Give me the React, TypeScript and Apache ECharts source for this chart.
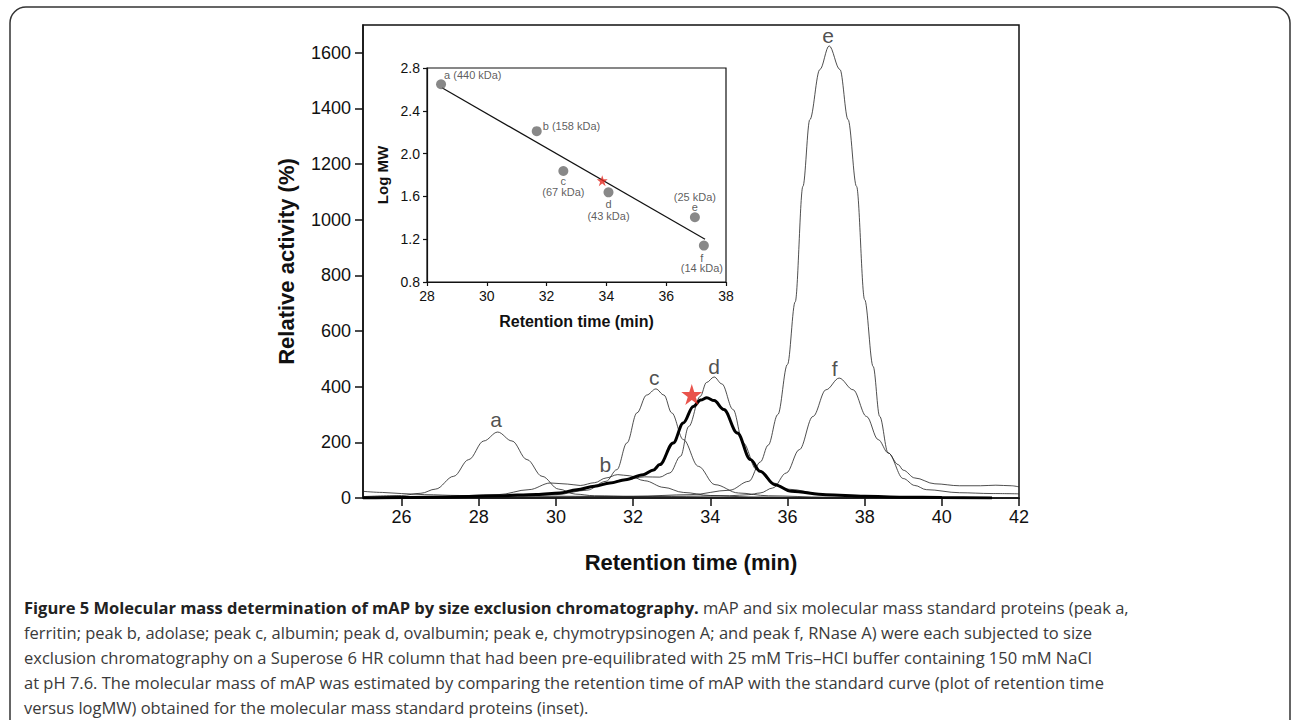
import React, { useEffect, useRef } from "react";
import * as echarts from "echarts";

// ---------- main chromatogram data (retention time min, relative activity %) ----------
const curveA: [number, number][] = [
  [25, 5], [26, 9], [26.5, 17], [26.88, 32], [27.35, 78], [27.74, 138], [28.13, 205], [28.49, 237],
  [28.86, 205], [29.25, 138], [29.64, 78], [30.07, 32], [30.5, 14], [31, 8], [32, 5], [34, 3], [36, 1], [42, 0],
];
const curveB: [number, number][] = [
  [25, 3], [27, 6], [28.5, 12], [29.3, 30], [29.86, 54], [30.3, 50], [30.63, 45], [31.0, 55], [31.3, 72],
  [31.6, 84], [31.9, 80], [32.3, 62], [32.8, 38], [33.3, 20], [34, 9], [35, 4], [37, 1], [42, 0],
];
const curveC: [number, number][] = [
  [25, 4], [28, 6], [30, 12], [30.8, 28], [31.3, 60], [31.58, 102], [31.84, 198], [32.1, 306], [32.35, 370],
  [32.59, 392], [32.8, 370], [33.0, 306], [33.3, 210], [33.69, 114], [34.12, 48], [34.73, 18], [35.5, 8],
  [37, 3], [42, 0],
];
const curveD: [number, number][] = [
  [25, 2], [28, 4], [29.5, 10], [30.5, 25], [31.2, 50], [31.8, 66], [32.3, 76], [32.69, 75], [32.95, 90],
  [33.23, 150], [33.44, 257], [33.74, 365], [33.9, 415], [34.1, 435], [34.3, 410], [34.59, 318], [34.85, 198],
  [35.2, 102], [35.63, 54], [36, 32], [37, 12], [38, 5], [40, 2], [42, 1],
];
const curveE: [number, number][] = [
  [25, 2], [30, 4], [32, 6], [33.5, 12], [34.5, 28], [35, 60], [35.3, 130], [35.5, 190], [35.75, 300],
  [36, 480], [36.2, 705], [36.4, 1120], [36.58, 1360], [36.84, 1540], [37.08, 1625], [37.36, 1540],
  [37.57, 1360], [37.79, 1120], [38.0, 713], [38.22, 473], [38.39, 293], [38.61, 162], [39.0, 70],
  [39.3, 45], [39.6, 30], [40.46, 19], [41.3, 16], [42, 15],
];
const curveF: [number, number][] = [
  [25, 24], [25.5, 20], [26, 16], [26.6, 12], [27.5, 9], [29, 7], [31, 6], [33, 6], [34.5, 8], [35, 12],
  [35.29, 18], [35.62, 36], [35.97, 90], [36.31, 174], [36.66, 293], [37.0, 389], [37.34, 431], [37.7, 389],
  [38.05, 293], [38.35, 210], [38.61, 162], [38.87, 120], [39.0, 100], [39.3, 72], [39.82, 51], [40.46, 44],
  [41.0, 44], [41.4, 46], [41.8, 44], [42, 40],
];
const curveMAP: [number, number][] = [
  [25, 0], [27, 3], [28.5, 8], [29.5, 13], [30.1, 18], [30.54, 30], [31.0, 42], [31.4, 54], [31.8, 66],
  [32.26, 84], [32.53, 101], [32.69, 120], [33.04, 198], [33.3, 270], [33.56, 329], [33.75, 352], [33.91, 360],
  [34.1, 350], [34.35, 318], [34.7, 234], [35.04, 138], [35.29, 96], [35.67, 48], [36.1, 24], [37, 12],
  [38, 6], [39, 3], [40, 2], [41.3, 0],
];
const peakLabelNames = ["a", "b", "c", "d", "e", "f"];
const peakLabelX = [28.45, 31.28, 32.55, 34.1, 37.05, 37.22];
const peakLabelY = [282, 121, 433, 474, 1662, 467];
const mapStarMain: [number, number] = [33.52, 372];

const mainXTicks = [26, 28, 30, 32, 34, 36, 38, 40, 42];
const mainYTicks = [0, 200, 400, 600, 800, 1000, 1200, 1400, 1600];

// ---------- inset standard curve ----------
const standardNames = ["a", "b", "c", "d", "e", "f"];
const standardMass = ["440 kDa", "158 kDa", "67 kDa", "43 kDa", "25 kDa", "14 kDa"];
const standardTime = [28.47, 31.67, 32.56, 34.07, 36.96, 37.26];
const standardLogMW = [2.648, 2.21, 1.837, 1.638, 1.405, 1.14];
const fitLine: [number, number][] = [[28.5, 2.615], [37.3, 1.2]];
const mapStarInset: [number, number] = [33.86, 1.747];

const insetXTicks = [28, 30, 32, 34, 36, 38];
const insetYTicks = [0.8, 1.2, 1.6, 2.0, 2.4, 2.8];

const captionBold = "Figure 5 Molecular mass determination of mAP by size exclusion chromatography.";
const captionLines = [
  " mAP and six molecular mass standard proteins (peak a,",
  "ferritin; peak b, adolase; peak c, albumin; peak d, ovalbumin; peak e, chymotrypsinogen A; and peak f, RNase A) were each subjected to size",
  "exclusion chromatography on a Superose 6 HR column that had been pre-equilibrated with 25 mM Tris\u2013HCl buffer containing 150 mM NaCl",
  "at pH 7.6. The molecular mass of mAP was estimated by comparing the retention time of mAP with the standard curve (plot of retention time",
  "versus logMW) obtained for the molecular mass standard proteins (inset).",
];

const STAR = "path://M50,0 L61.2,34.5 L97.6,34.5 L68.2,55.9 L79.4,90.5 L50,69.1 L20.6,90.5 L31.8,55.9 L2.4,34.5 L38.8,34.5 Z";
const FONT = "Liberation Sans, Arial, Helvetica, sans-serif";
const CAP_FONT = "Open Sans, Noto Sans, sans-serif";
const CAP_SIZE = 16.5;
const CAP_TOP = 607;
const CAP_STEP = 25;

export default function App() {
  const ref = useRef<HTMLDivElement>(null);
  useEffect(() => {
    if (!ref.current) return;
    const chart = echarts.init(ref.current, undefined, { renderer: "svg" });

    const thin = (data: [number, number][]) => ({
      type: "line",
      data,
      xAxisIndex: 0,
      yAxisIndex: 0,
      symbol: "none",
      showSymbol: false,
      smooth: 0.35,
      smoothMonotone: "x",
      silent: true,
      lineStyle: { color: "#222", width: 0.8 },
      z: 2,
    });

    const insetLabelCfg: any[] = [
      { formatter: `${standardNames[0]} (${standardMass[0]})`, position: "right", offset: [-7, -9], align: "left" },
      { formatter: `${standardNames[1]} (${standardMass[1]})`, position: "right", offset: [-4, -5], align: "left" },
      { formatter: `${standardNames[2]}\n(${standardMass[2]})`, position: "bottom", offset: [0, -6], lineHeight: 11 },
      { formatter: `${standardNames[3]}\n(${standardMass[3]})`, position: "bottom", offset: [0, -4], lineHeight: 12 },
      { formatter: `(${standardMass[4]})\n${standardNames[4]}`, position: "top", offset: [0, 5], lineHeight: 10 },
      { formatter: `${standardNames[5]}\n(${standardMass[5]})`, position: "bottom", offset: [-2, -3], lineHeight: 10 },
    ];

    const lineStyle = (width: number) => ({ color: "#111", width });

    const option: any = {
      animation: false,
      backgroundColor: "#fff",
      textStyle: { fontFamily: FONT },
      grid: [
        { left: 363, right: 273, top: 25, bottom: 222, show: true, borderColor: "#111", borderWidth: 1.5, backgroundColor: "transparent", outerBoundsMode: "none" },
        { left: 427, right: 566, top: 68, bottom: 438, show: true, borderColor: "#111", borderWidth: 1.2, backgroundColor: "#fff", outerBoundsMode: "none", z: 5 },
      ],
      xAxis: [
        {
          type: "value", gridIndex: 0, min: 25, max: 42,
          axisLine: { show: true, onZero: false, lineStyle: lineStyle(1.5) },
          splitLine: { show: false },
          axisLabel: { fontSize: 18, color: "#111", margin: 10, fontFamily: FONT, customValues: mainXTicks, formatter: (v: number) => String(v) },
          axisTick: { show: true, length: 8, customValues: mainXTicks, lineStyle: lineStyle(1.5) },
          name: "Retention time (min)", nameLocation: "middle", nameGap: 53,
          nameTextStyle: { fontSize: 22, fontWeight: "bold", color: "#111", fontFamily: FONT },
        },
        {
          type: "value", gridIndex: 1, min: 28, max: 38,
          axisLine: { show: true, onZero: false, lineStyle: lineStyle(1.2) },
          splitLine: { show: false },
          axisLabel: { fontSize: 14, color: "#111", margin: 7, fontFamily: FONT, customValues: insetXTicks, formatter: (v: number) => String(v) },
          axisTick: { show: true, length: 4, customValues: insetXTicks, lineStyle: lineStyle(1.2) },
          name: "Retention time (min)", nameLocation: "middle", nameGap: 31,
          nameTextStyle: { fontSize: 16, fontWeight: "bold", color: "#111", fontFamily: FONT },
          z: 6,
        },
      ],
      yAxis: [
        {
          type: "value", gridIndex: 0, min: 0, max: 1700,
          axisLine: { show: true, onZero: false, lineStyle: lineStyle(1.5) },
          splitLine: { show: false },
          axisLabel: { fontSize: 18, color: "#111", margin: 12, fontFamily: FONT, customValues: mainYTicks, formatter: (v: number) => String(v) },
          axisTick: { show: true, length: 8, customValues: mainYTicks, lineStyle: lineStyle(1.5) },
          name: "Relative activity (%)", nameLocation: "middle", nameGap: 66, nameRotate: 90,
          nameTextStyle: { fontSize: 22, fontWeight: "bold", color: "#111", fontFamily: FONT },
        },
        {
          type: "value", gridIndex: 1, min: 0.8, max: 2.8,
          axisLine: { show: true, onZero: false, lineStyle: lineStyle(1.2) },
          splitLine: { show: false },
          axisLabel: {
            fontSize: 14, color: "#111", margin: 7, fontFamily: FONT, customValues: insetYTicks,
            formatter: (v: number) => v.toFixed(1),
          },
          axisTick: { show: true, length: 4, customValues: insetYTicks, lineStyle: lineStyle(1.2) },
          name: "Log MW", nameLocation: "middle", nameGap: 37, nameRotate: 90,
          nameTextStyle: { fontSize: 15, fontWeight: "bold", color: "#111", fontFamily: FONT },
          z: 6,
        },
      ],
      series: [
        thin(curveA), thin(curveB), thin(curveC), thin(curveD), thin(curveE), thin(curveF),
        {
          type: "line", data: curveMAP, xAxisIndex: 0, yAxisIndex: 0, symbol: "none", showSymbol: false,
          smooth: 0.35, smoothMonotone: "x", silent: true, lineStyle: { color: "#000", width: 3 }, z: 3,
        },
        {
          type: "scatter", xAxisIndex: 0, yAxisIndex: 0, symbolSize: 1, silent: true,
          itemStyle: { color: "rgba(0,0,0,0)" },
          data: peakLabelNames.map((n, i) => ({ name: n, value: [peakLabelX[i], peakLabelY[i]] })),
          label: { show: true, formatter: "{b}", position: "inside", fontSize: 21, color: "#222", fontFamily: FONT },
          z: 4,
        },
        {
          type: "scatter", xAxisIndex: 0, yAxisIndex: 0, symbol: STAR, symbolSize: 21, silent: true,
          itemStyle: { color: "#e4281f" }, data: [mapStarMain], z: 5,
        },
        {
          type: "line", data: fitLine, xAxisIndex: 1, yAxisIndex: 1, symbol: "none", showSymbol: false,
          silent: true, lineStyle: { color: "#111", width: 1.2 }, z: 6,
        },
        {
          type: "scatter", xAxisIndex: 1, yAxisIndex: 1, symbolSize: 10, silent: true,
          itemStyle: { color: "#6a6a6a" },
          data: standardTime.map((t, i) => ({
            value: [t, standardLogMW[i]],
            label: { show: true, color: "#333", fontSize: 11, fontFamily: FONT, ...insetLabelCfg[i] },
          })),
          z: 7,
        },
        {
          type: "scatter", xAxisIndex: 1, yAxisIndex: 1, symbol: STAR, symbolSize: 11, silent: true,
          itemStyle: { color: "#e4281f" }, data: [mapStarInset], z: 8,
        },
      ],
      graphic: [
        {
          type: "rect", silent: true, z: -10,
          shape: { x: 10, y: 7, width: 1280, height: 760, r: [16, 16, 0, 0] },
          style: { fill: "none", stroke: "#333", lineWidth: 1.5 },
        },
        {
          type: "text", x: 24, y: CAP_TOP, silent: true,
          style: {
            text: `{b|${captionBold}}{r|${captionLines[0]}}`,
            verticalAlign: "middle",
            rich: {
              b: { fontFamily: CAP_FONT, fontSize: CAP_SIZE, fontWeight: "bold", fill: "#222" },
              r: { fontFamily: CAP_FONT, fontSize: CAP_SIZE, fill: "#3a3a3a" },
            },
          },
        },
        ...captionLines.slice(1).map((t, i) => ({
          type: "text", x: 24, y: CAP_TOP + (i + 1) * CAP_STEP, silent: true,
          style: { text: t, fontFamily: CAP_FONT, fontSize: CAP_SIZE, fill: "#3a3a3a", verticalAlign: "middle" },
        })),
      ],
    };
    chart.setOption(option);
    return () => chart.dispose();
  }, []);

  return (
    <div
      ref={ref}
      style={{ position: "fixed", left: 0, top: 0, width: 1292, height: 720, background: "#fff" }}
    />
  );
}
